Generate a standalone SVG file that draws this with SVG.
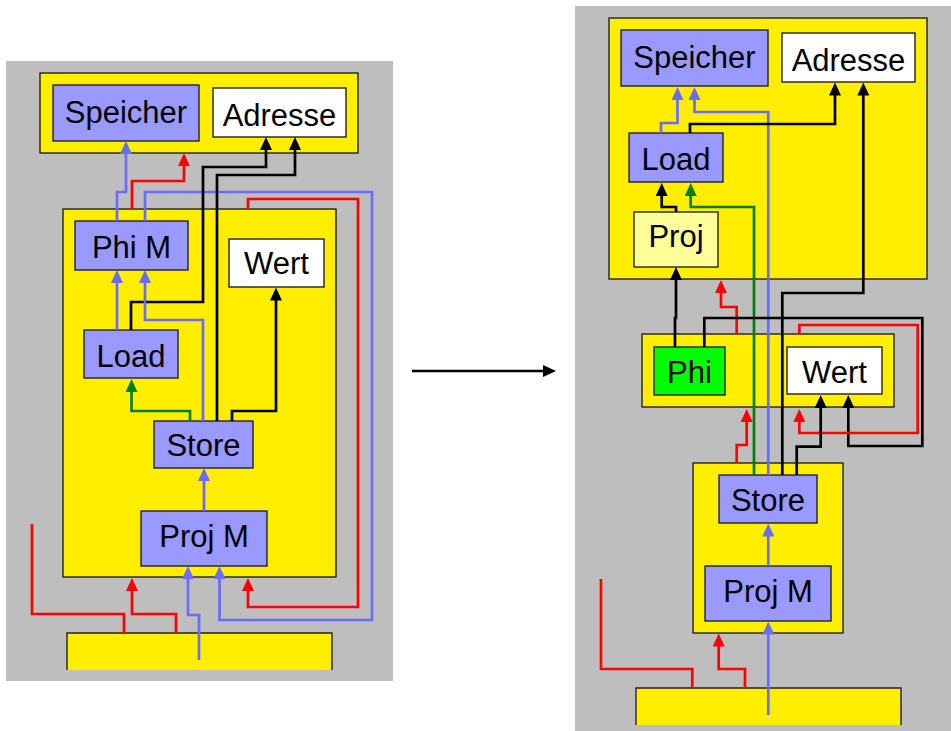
<svg xmlns="http://www.w3.org/2000/svg" width="951" height="731" viewBox="0 0 951 731">
<style>
.bg{fill:#bebebe;stroke:none}
.grp{fill:#ffee00;stroke:#222;stroke-width:1.4}
.mem{fill:#9999ff;stroke:#222;stroke-width:1.4}
.val{fill:#ffffff;stroke:#222;stroke-width:1.4}
.proj{fill:#ffff99;stroke:#222;stroke-width:1.4}
.phi{fill:#00ff00;stroke:#222;stroke-width:1.4}
text{font-family:"Liberation Sans",Arial,sans-serif;font-size:31px;fill:#000;text-anchor:middle}
.c{fill:none;stroke-width:2.7;stroke-linejoin:miter}
.k{stroke:#000;marker-end:url(#ak)}
.r{stroke:#ff0000;marker-end:url(#ar)}
.b{stroke:#6b6bff;marker-end:url(#ab)}
.g{stroke:#008000;marker-end:url(#ag)}
.n{marker-end:none}
</style>
<defs>
<marker id="ak" markerUnits="userSpaceOnUse" markerWidth="14" markerHeight="12" refX="1" refY="6" orient="auto"><path d="M0,0 L13,6 L0,12 z" fill="#000"/></marker>
<marker id="ar" markerUnits="userSpaceOnUse" markerWidth="14" markerHeight="12" refX="1" refY="6" orient="auto"><path d="M0,0 L13,6 L0,12 z" fill="#ff0000"/></marker>
<marker id="ab" markerUnits="userSpaceOnUse" markerWidth="14" markerHeight="12" refX="1" refY="6" orient="auto"><path d="M0,0 L13,6 L0,12 z" fill="#6b6bff"/></marker>
<marker id="ag" markerUnits="userSpaceOnUse" markerWidth="14" markerHeight="12" refX="1" refY="6" orient="auto"><path d="M0,0 L13,6 L0,12 z" fill="#008000"/></marker>
</defs>

<!-- Left diagram -->
<rect class="bg" x="6" y="61" width="387" height="620"/>
<g id="L_top"><rect class="grp" x="40" y="73" width="318" height="80"/></g>
<g id="L_inner"><rect class="grp" x="63" y="209" width="273" height="368"/></g>
<g id="L_bottom"><path class="grp" d="M67,670 V633 H332 V670"/></g>
<g id="L_speicher"><rect class="mem" x="53" y="85" width="146" height="56"/><text x="126" y="122.5">Speicher</text></g>
<g id="L_adresse"><rect class="val" x="213" y="88" width="133" height="49"/><text x="279.5" y="125.5">Adresse</text></g>
<g id="L_phim"><rect class="mem" x="75" y="221" width="113" height="49"/><text x="131.5" y="258">Phi M</text></g>
<g id="L_wert"><rect class="val" x="229" y="239" width="95" height="48"/><text x="276.5" y="274">Wert</text></g>
<g id="L_load"><rect class="mem" x="84" y="330" width="94" height="48"/><text x="131" y="366.5">Load</text></g>
<g id="L_store"><rect class="mem" x="154" y="421" width="99" height="47"/><text x="203.5" y="456">Store</text></g>
<g id="L_projm"><rect class="mem" x="141" y="511" width="126" height="55"/><text x="204" y="547">Proj M</text></g>

<!-- Right diagram -->
<rect class="bg" x="575" y="6" width="376" height="725"/>
<g id="R_top"><rect class="grp" x="609" y="18" width="318" height="261"/></g>
<g id="R_phigrp"><rect class="grp" x="642" y="334" width="252" height="73"/></g>
<g id="R_storegrp"><rect class="grp" x="693" y="463" width="150" height="170"/></g>
<g id="R_bottom"><path class="grp" d="M636,725 V688 H901 V725"/></g>
<g id="R_speicher"><rect class="mem" x="621" y="30" width="147" height="56"/><text x="694.5" y="67.5">Speicher</text></g>
<g id="R_adresse"><rect class="val" x="782" y="33" width="133" height="49"/><text x="848.5" y="70.5">Adresse</text></g>
<g id="R_load"><rect class="mem" x="629" y="133" width="94" height="49"/><text x="676" y="170">Load</text></g>
<g id="R_proj"><rect class="proj" x="634" y="212" width="84" height="55"/><text x="676" y="247">Proj</text></g>
<g id="R_phi"><rect class="phi" x="654" y="347" width="71" height="48"/><text x="689.5" y="383">Phi</text></g>
<g id="R_wert"><rect class="val" x="787" y="347" width="95" height="47"/><text x="834.5" y="382.5">Wert</text></g>
<g id="R_store"><rect class="mem" x="719" y="475" width="98" height="48"/><text x="768" y="510.5">Store</text></g>
<g id="R_projm"><rect class="mem" x="705" y="566" width="126" height="55"/><text x="768" y="601.5">Proj M</text></g>

<g id="connectors">
<!-- left -->
<path class="c b" d="M117,221 V192 H126 V153"/>
<path class="c r" d="M132,209 V181 H184 V165"/>
<path class="c b" d="M145,221 V192 H372 V620 H219.5 V578"/>
<path class="c r" d="M248,209 V199 H358 V607 H248 V590"/>
<path class="c k" d="M131,330 V302 H203 V167 H266 V149"/>
<path class="c k" d="M217,421 V175 H295 V149"/>
<path class="c b" d="M117,330 V282"/>
<path class="c b" d="M203,421 V320 H145 V282"/>
<path class="c g" d="M190,421 V411 H131.5 V391"/>
<path class="c k" d="M232,421 V411 H276 V299.5"/>
<path class="c b" d="M204,511 V480"/>
<path class="c r n" d="M124,633 V614 H32 V524"/>
<path class="c r" d="M176,633 V614 H132 V590"/>
<path class="c b" d="M199,660 V615 H188 V578"/>
<!-- transformation arrow -->
<path class="c k" d="M412,371 H544"/>
<!-- right -->
<path class="c b" d="M661,133 V123 H677.5 V99"/>
<path class="c b" d="M768.3,475 V112 H694.5 V99"/>
<path class="c k" d="M690,133 V124 H835 V94.5"/>
<path class="c k" d="M782.3,475 V293 H863.3 V94.5"/>
<path class="c k" d="M676,212 V207 H661.7 V195"/>
<path class="c g" d="M754,475 V207 H690.7 V195"/>
<path class="c k" d="M675,347 V318 H676 V279"/>
<path class="c r" d="M736.7,334 V307 H721 V292"/>
<path class="c k" d="M704.3,347 V318 H922.3 V446 H848.3 V407"/>
<path class="c r" d="M799.3,334 V325 H917.7 V433 H799.3 V421"/>
<path class="c r" d="M736.7,463 V445 H746.7 V421"/>
<path class="c k" d="M796.7,475 V446.7 H820.7 V407"/>
<path class="c b" d="M768.3,566 V535.5"/>
<path class="c b" d="M768.3,715 V633.5"/>
<path class="c r" d="M745,688 V669 H718.7 V645.5"/>
<path class="c r n" d="M692.3,688 V669 H601 V579"/>
</g>
</svg>
